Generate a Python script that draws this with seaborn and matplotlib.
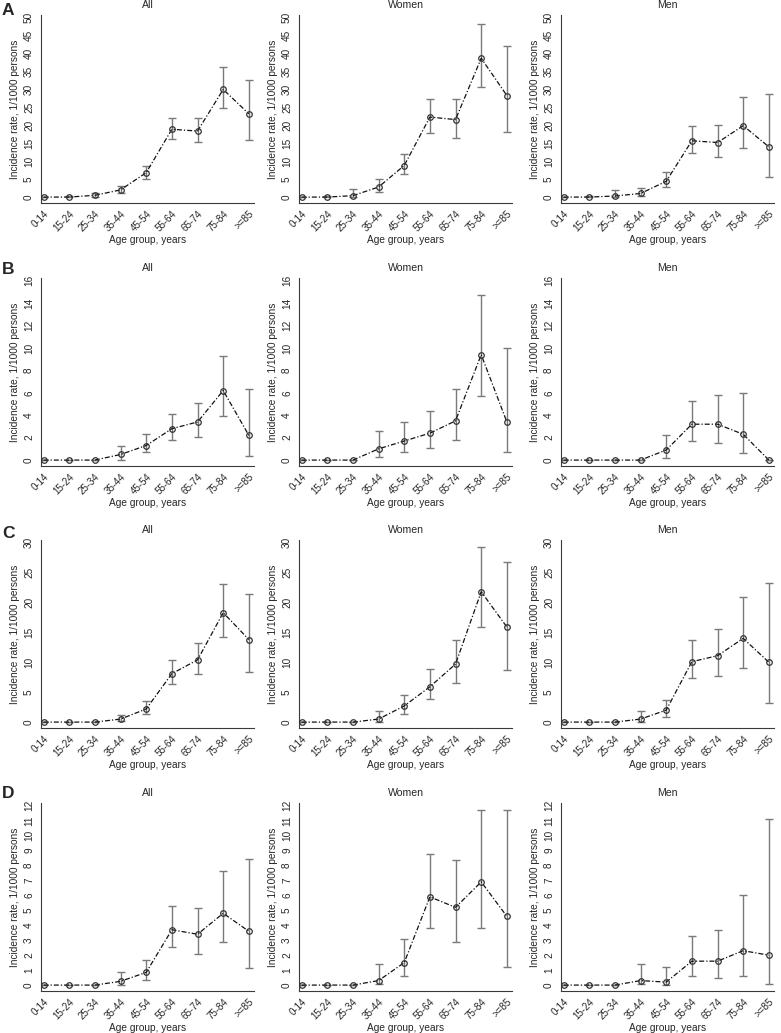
"""
Age-specific incidence rates (per 1000 persons) with 95% CI, panels A-D by sex.
"""

import numpy as np
import pandas as pd
import matplotlib
matplotlib.use("Agg")
import matplotlib.pyplot as plt
import seaborn as sns

age_groups = ["0-14", "15-24", "25-34", "35-44", "45-54", "55-64", "65-74", "75-84", ">=85"]
panels = ["A", "B", "C", "D"]
sexes = ["All", "Women", "Men"]

# rate, lower CI, upper CI for each panel / sex
a_all = [0, 0, 0.5, 2.0, 6.8, 18.9, 18.4, 30.0, 23.2]
a_all_lo = [0, 0, 0.1, 1.0, 5.0, 16.1, 15.3, 24.8, 15.8]
a_all_hi = [0, 0.2, 1.2, 3.2, 8.6, 22.0, 22.0, 36.2, 32.7]
a_women = [0, 0, 0.4, 2.8, 8.8, 22.3, 21.6, 38.7, 28.3]
a_women_lo = [0, 0, 0, 1.4, 6.3, 18.0, 16.6, 30.6, 18.2]
a_women_hi = [0, 0.2, 2.2, 5.0, 12.0, 27.3, 27.3, 48.3, 42.0]
a_men = [0, 0, 0.3, 1.0, 4.4, 15.7, 15.2, 19.9, 14.0]
a_men_lo = [0, 0, 0, 0.2, 2.7, 12.2, 11.2, 13.8, 5.6]
a_men_hi = [0, 0.2, 1.9, 2.6, 6.9, 19.7, 20.1, 27.8, 28.7]

b_all = [0, 0, 0, 0.5, 1.3, 2.8, 3.4, 6.2, 2.2]
b_all_lo = [0, 0, 0, 0.05, 0.7, 1.8, 2.1, 3.9, 0.4]
b_all_hi = [0, 0, 0, 1.3, 2.3, 4.1, 5.1, 9.3, 6.3]
b_women = [0, 0, 0, 1.0, 1.7, 2.4, 3.5, 9.4, 3.4]
b_women_lo = [0, 0, 0, 0.3, 0.7, 1.1, 1.8, 5.7, 0.7]
b_women_hi = [0, 0, 0, 2.6, 3.4, 4.4, 6.3, 14.7, 10.0]
b_men = [0, 0, 0, 0, 0.9, 3.2, 3.2, 2.3, 0]
b_men_lo = [0, 0, 0, 0, 0.2, 1.7, 1.5, 0.6, 0]
b_men_hi = [0, 0, 0, 0, 2.2, 5.3, 5.8, 6.0, 0]

c_all = [0, 0, 0, 0.5, 2.2, 8.1, 10.4, 18.3, 13.8]
c_all_lo = [0, 0, 0, 0.1, 1.4, 6.3, 8.0, 14.2, 8.3]
c_all_hi = [0, 0, 0, 1.2, 3.5, 10.3, 13.2, 23.1, 21.5]
c_women = [0, 0, 0, 0.5, 2.7, 5.9, 9.7, 21.8, 15.9]
c_women_lo = [0, 0, 0, 0.05, 1.3, 3.8, 6.5, 15.9, 8.7]
c_women_hi = [0, 0, 0, 1.8, 4.5, 8.8, 13.8, 29.2, 26.7]
c_men = [0, 0, 0, 0.5, 2.0, 10.1, 11.1, 14.0, 10.0]
c_men_lo = [0, 0, 0, 0.05, 0.8, 7.4, 7.7, 9.0, 3.2]
c_men_hi = [0, 0, 0, 1.8, 3.7, 13.7, 15.5, 20.9, 23.2]

d_all = [0, 0, 0, 0.25, 0.85, 3.7, 3.4, 4.8, 3.6]
d_all_lo = [0, 0, 0, 0.02, 0.35, 2.55, 2.1, 2.85, 1.15]
d_all_hi = [0, 0, 0, 0.9, 1.7, 5.3, 5.15, 7.65, 8.45]
d_women = [0, 0, 0, 0.3, 1.5, 5.9, 5.2, 6.9, 4.6]
d_women_lo = [0, 0, 0, 0.05, 0.6, 3.8, 2.9, 3.8, 1.2]
d_women_hi = [0, 0, 0, 1.4, 3.1, 8.8, 8.4, 11.7, 11.7]
d_men = [0, 0, 0, 0.3, 0.2, 1.6, 1.6, 2.3, 2.0]
d_men_lo = [0, 0, 0, 0.05, 0.02, 0.6, 0.45, 0.6, 0.05]
d_men_hi = [0, 0, 0, 1.4, 1.2, 3.3, 3.7, 6.0, 11.1]

y_max = {"A": 50, "B": 16, "C": 30, "D": 12}
y_step = {"A": 5, "B": 2, "C": 5, "D": 1}

series = {
    ("A", "All"): (a_all, a_all_lo, a_all_hi),
    ("A", "Women"): (a_women, a_women_lo, a_women_hi),
    ("A", "Men"): (a_men, a_men_lo, a_men_hi),
    ("B", "All"): (b_all, b_all_lo, b_all_hi),
    ("B", "Women"): (b_women, b_women_lo, b_women_hi),
    ("B", "Men"): (b_men, b_men_lo, b_men_hi),
    ("C", "All"): (c_all, c_all_lo, c_all_hi),
    ("C", "Women"): (c_women, c_women_lo, c_women_hi),
    ("C", "Men"): (c_men, c_men_lo, c_men_hi),
    ("D", "All"): (d_all, d_all_lo, d_all_hi),
    ("D", "Women"): (d_women, d_women_lo, d_women_hi),
    ("D", "Men"): (d_men, d_men_lo, d_men_hi),
}

rows = []
for (panel, sex), (rate, lo, hi) in series.items():
    for i, age in enumerate(age_groups):
        rows.append({"panel": panel, "sex": sex, "pos": i, "age": age,
                     "rate": rate[i], "lo": lo[i], "hi": hi[i]})
df = pd.DataFrame(rows)

sns.set_style("white")
plt.rcParams["font.family"] = ["Liberation Sans", "DejaVu Sans"]

W, H = 781, 1033
fig = plt.figure(figsize=(W / 100, H / 100), dpi=100)

col_left = [41, 299, 561]
row_bottom = [203, 466, 728, 991]
ax_w, ax_h = 213, 188
letter_y = [3, 262, 526, 786]
axis_col = "#3a3a3a"

for r, panel in enumerate(panels):
    fig.text(2 / W, 1 - letter_y[r] / H, panel, fontsize=12.5, fontweight="bold",
             va="top", ha="left")
    for c, sex in enumerate(sexes):
        ax = fig.add_axes([col_left[c] / W, 1 - row_bottom[r] / H, ax_w / W, ax_h / H])
        sub = df[(df["panel"] == panel) & (df["sex"] == sex)]

        ax.errorbar(sub["pos"], sub["rate"],
                    yerr=[sub["rate"] - sub["lo"], sub["hi"] - sub["rate"]],
                    fmt="none", ecolor="#7a7a7a", elinewidth=1.0, capsize=2.6,
                    capthick=1.0, zorder=2)
        sns.lineplot(data=sub, x="pos", y="rate", ax=ax, color="#111111",
                     linewidth=0.9, linestyle=(0, (4, 1.6, 1, 1.6)),
                     marker="o", markersize=4.0, markerfacecolor="none",
                     markeredgecolor="#333333", markeredgewidth=0.9, zorder=3)

        top = y_max[panel]
        ax.set_ylim(-0.033 * top, 1.015 * top)
        ax.set_xlim(-0.1, 8.2)
        ax.set_yticks(np.arange(0, top + 0.01, y_step[panel]))
        ax.set_yticklabels([str(int(v)) for v in ax.get_yticks()],
                           rotation=90, va="center", fontsize=7.2)
        ax.set_xticks(range(len(age_groups)))
        ax.set_xticklabels(age_groups, rotation=45, ha="right",
                           rotation_mode="anchor", fontsize=7)
        ax.tick_params(axis="both", direction="out", length=3, width=0.8,
                       color=axis_col, pad=2)
        ax.tick_params(axis="x", length=2.5, pad=1.5)
        for side in ["top", "right"]:
            ax.spines[side].set_visible(False)
        for side in ["left", "bottom"]:
            ax.spines[side].set_color(axis_col)
            ax.spines[side].set_linewidth(0.8)
        ax.set_title(sex, fontsize=7.6, pad=5)
        ax.set_xlabel("Age group, years", fontsize=7.3, labelpad=1)
        ax.set_ylabel("Incidence rate, 1/1000 persons", fontsize=7.3, labelpad=3)

fig.savefig("out.png", dpi=100)
